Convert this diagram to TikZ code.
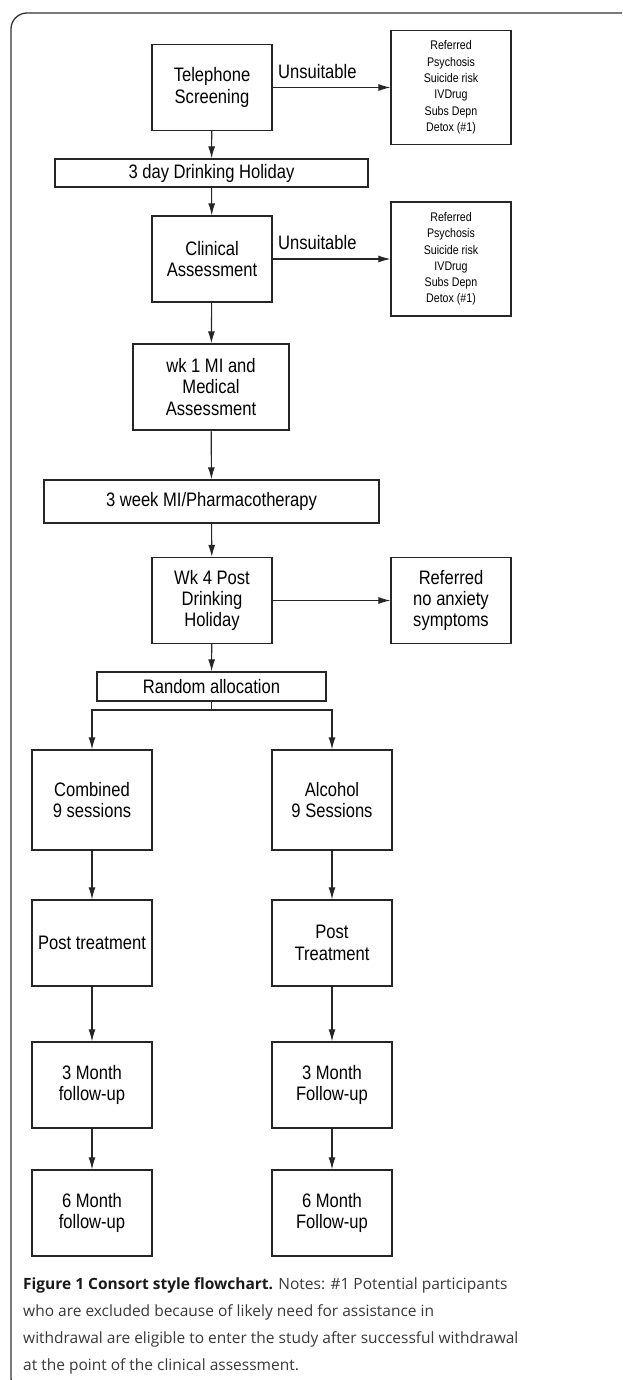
\documentclass[tikz,border=0pt]{standalone}
\usepackage{fontspec}
\setmainfont{Liberation Sans}
\newfontfamily\boxfont[FakeStretch=0.85]{Liberation Sans}
\newfontfamily\capfont{Open Sans}
\usetikzlibrary{arrows.meta, positioning}

\begin{document}
\begin{tikzpicture}[x=1pt, y=-1pt]

\clip (0,0) rectangle (622,1380);

\tikzset{
  flow box/.style={
    draw=black!85,
    line width=1.3pt,
    align=center,
    inner sep=0pt,
    minimum width=120pt,
    minimum height=86pt,
    font=\boxfont\fontsize{19.5}{21.3}\selectfont
  },
  wide box/.style={flow box, minimum height=28pt},
  excl box/.style={
    flow box,
    minimum height=114pt,
    font=\boxfont\fontsize{12.5}{16.3}\selectfont
  },
  flow arrow/.style={
    draw=black!85,
    line width=1.1pt,
    -{Latex[length=12pt, width=7pt]}
  },
  unsuit label/.style={
    pos=0, anchor=base west,
    inner sep=0pt, xshift=5pt, yshift=9pt,
    font=\boxfont\fontsize{19.5}{21.3}\selectfont
  }
}

% frame
\draw[black!80, line width=1.3pt, rounded corners=16pt] (11,13) rectangle (660,1394);

% main column
\node[flow box] (phone) at (212,87.5) {Telephone\\Screening};
\node[excl box] (excl1) at (451,87.5) {Referred\\Psychosis\\Suicide risk\\IVDrug\\Subs Depn\\Detox (\#1)};
\node[wide box, minimum width=313pt] (holiday) at (211.5,173) {3 day Drinking Holiday};
\node[flow box] (clinic) at (212,259) {Clinical\\Assessment};
\node[excl box] (excl2) at (451,259) {Referred\\Psychosis\\Suicide risk\\IVDrug\\Subs Depn\\Detox (\#1)};
\node[flow box, minimum width=156pt] (medical) at (211,387) {wk 1 MI and\\Medical\\Assessment};
\node[wide box, minimum width=335pt, minimum height=43pt] (pharma) at (211.5,501.5) {3 week MI/Pharmacotherapy};
\node[flow box] (post4) at (212,600.5) {Wk 4 Post\\Drinking\\Holiday};
\node[flow box] (referred) at (451,600.5) {Referred\\no anxiety\\symptoms};
\node[wide box, minimum width=229pt, minimum height=29pt] (random) at (211.5,686.5) {Random allocation};

% two arms
\node[flow box, minimum height=100pt] (comb-1) at (92,800) {Combined\\9 sessions};
\node[flow box] (comb-2) at (92,943) {Post treatment};
\node[flow box] (comb-3) at (92,1085) {3 Month\\follow-up};
\node[flow box] (comb-4) at (92,1213) {6 Month\\follow-up};

\node[flow box, minimum height=100pt] (alc-1) at (332,800) {Alcohol\\9 Sessions};
\node[flow box] (alc-2) at (332,943) {Post\\Treatment};
\node[flow box] (alc-3) at (332,1085) {3 Month\\Follow-up};
\node[flow box] (alc-4) at (332,1213) {6 Month\\Follow-up};

% connectors
\draw[flow arrow] (phone) -- node[unsuit label] {Unsuitable} (excl1);
\draw[flow arrow] (phone) -- (holiday);
\draw[flow arrow] (holiday) -- (clinic);
\draw[flow arrow] (clinic) -- node[unsuit label] {Unsuitable} (excl2);
\draw[flow arrow] (clinic) -- (medical);
\draw[flow arrow] (medical) -- (pharma);
\draw[flow arrow] (pharma) -- (post4);
\draw[flow arrow] (post4) -- (referred);
\draw[flow arrow] (post4) -- (random);

\coordinate (split) at (211.5,710);
\draw[draw=black!85, line width=1.1pt] (random.south) -- (split);
\draw[flow arrow] (split) -| (comb-1.north);
\draw[flow arrow] (split) -| (alc-1.north);

\foreach \arm in {comb,alc} {
  \draw[flow arrow] (\arm-1) -- (\arm-2);
  \draw[flow arrow] (\arm-2) -- (\arm-3);
  \draw[flow arrow] (\arm-3) -- (\arm-4);
}

% caption
\node[anchor=base west, align=left, inner sep=0pt, text=black!78,
      font=\capfont\fontsize{15.5}{27}\selectfont] (caption) at (23,1370)
  {{\bfseries\color{black!90}Figure 1 Consort style flowchart.} Notes: \#1 Potential participants\\
   who are excluded because of likely need for assistance in\\
   withdrawal are eligible to enter the study after successful withdrawal\\
   at the point of the clinical assessment.};

\end{tikzpicture}
\end{document}
